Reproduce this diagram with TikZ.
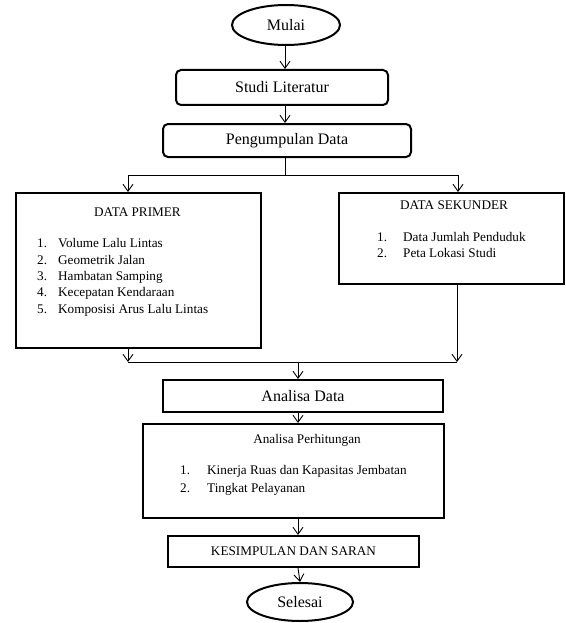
\documentclass[tikz,border=0pt]{standalone}
\usepackage{fontspec}
\setmainfont{Liberation Serif}
\usetikzlibrary{arrows.meta,shapes.geometric}
\begin{document}
\begin{tikzpicture}[x=1pt,y=-1pt,
  box/.style={draw,line width=2pt,inner sep=0pt,anchor=north west},
  rbox/.style={box,rounded corners=5pt},
  term/.style={draw,line width=2pt,ellipse,inner sep=0pt},
  big/.style={font=\fontsize{16}{18}\selectfont},
  small/.style={font=\fontsize{13.2}{15}\selectfont},
  txt/.style={inner sep=0pt,anchor=base west},
  ctxt/.style={inner sep=0pt,anchor=base},
  conn/.style={line width=0.9pt},
  arr/.style={conn,-{Straight Barb[length=7pt,width=10pt,line width=0.9pt]}}]
\useasboundingbox (0,0) rectangle (565,623);
% terminals and boxes
\node[term,minimum width=108pt,minimum height=40pt,big] (mulai) at (286,25) {Mulai};
\node[rbox,minimum width=212pt,minimum height=35pt,big] (studi) at (175,69) {};
\node[big,inner sep=0pt] (studit) at (studi.center) {Studi Literatur};
\node[rbox,minimum width=248pt,minimum height=33pt] (kumpul) at (162,123) {};
\node[big,inner sep=0pt] (kumpult) at (kumpul.center) {Pengumpulan Data};
\node[box,minimum width=245pt,minimum height=155pt] (primer) at (15,192) {};
\node[box,minimum width=225pt,minimum height=91pt] (sekunder) at (338,192) {};
\node[box,minimum width=280pt,minimum height=32pt] (analisa) at (162,379) {};
\node[big,inner sep=0pt] (analisat) at (analisa.center) {Analisa Data};
\node[box,minimum width=301pt,minimum height=94pt] (hitung) at (142,423) {};
\node[box,minimum width=251pt,minimum height=31pt] (simpul) at (167,535) {};
\node[small,inner sep=0pt] (simpult) at (simpul.center) {KESIMPULAN DAN SARAN};
\node[term,minimum width=106pt,minimum height=38pt,big] (selesai) at (300,602) {Selesai};
% texts in primer
\node[small,ctxt] (pt) at (137.5,216) {DATA PRIMER};
\node[small,txt] (p1n) at (37,247) {1.};
\node[small,txt] (p1) at (58,247) {Volume Lalu Lintas};
\node[small,txt] (p2n) at (37,264) {2.};
\node[small,txt] (p2) at (58,264) {Geometrik Jalan};
\node[small,txt] (p3n) at (37,280) {3.};
\node[small,txt] (p3) at (58,280) {Hambatan Samping};
\node[small,txt] (p4n) at (37,296) {4.};
\node[small,txt] (p4) at (58,296) {Kecepatan Kendaraan};
\node[small,txt] (p5n) at (37,313) {5.};
\node[small,txt] (p5) at (58,313) {Komposisi Arus Lalu Lintas};
% texts in sekunder
\node[small,ctxt] (st) at (454,209) {DATA SEKUNDER};
\node[small,txt] (s1n) at (377,241) {1.};
\node[small,txt] (s1) at (403,241) {Data Jumlah Penduduk};
\node[small,txt] (s2n) at (377,257) {2.};
\node[small,txt] (s2) at (403,257) {Peta Lokasi Studi};
% texts in hitung
\node[small,ctxt] (ht) at (307,443) {Analisa Perhitungan};
\node[small,txt] (h1n) at (180,474) {1.};
\node[small,txt] (h1) at (207,474) {Kinerja Ruas dan Kapasitas Jembatan};
\node[small,txt] (h2n) at (180,492) {2.};
\node[small,txt] (h2) at (207,492) {Tingkat Pelayanan};
% coordinates
\coordinate (split) at (285,175);
\coordinate (splitL) at (128,175);
\coordinate (splitR) at (458,175);
\coordinate (mergeL) at (128,362);
\coordinate (mergeR) at (457,362);
\coordinate (merge) at (298,362);
% connectors
\draw[arr] (mulai.south -| split) -- (studi.north -| split);
\draw[arr] (studi.south -| split) -- (kumpul.north -| split);
\draw[conn] (kumpul.south -| split) -- (split);
\draw[conn] (splitL) -- (splitR);
\draw[arr] (splitL) -- (primer.north -| splitL);
\draw[arr] (splitR) -- (sekunder.north -| splitR);
\draw[arr] (primer.south -| mergeL) -- (mergeL);
\draw[arr] (sekunder.south -| mergeR) -- (mergeR);
\draw[conn] (mergeL) -- (mergeR);
\draw[arr] (merge) -- (analisa.north -| merge);
\draw[arr] (analisa.south -| merge) -- (hitung.north -| merge);
\draw[arr] (hitung.south -| merge) -- (simpul.north -| merge);
\draw[arr] (simpul.south -| merge) -- (selesai.north);
\end{tikzpicture}
\end{document}
